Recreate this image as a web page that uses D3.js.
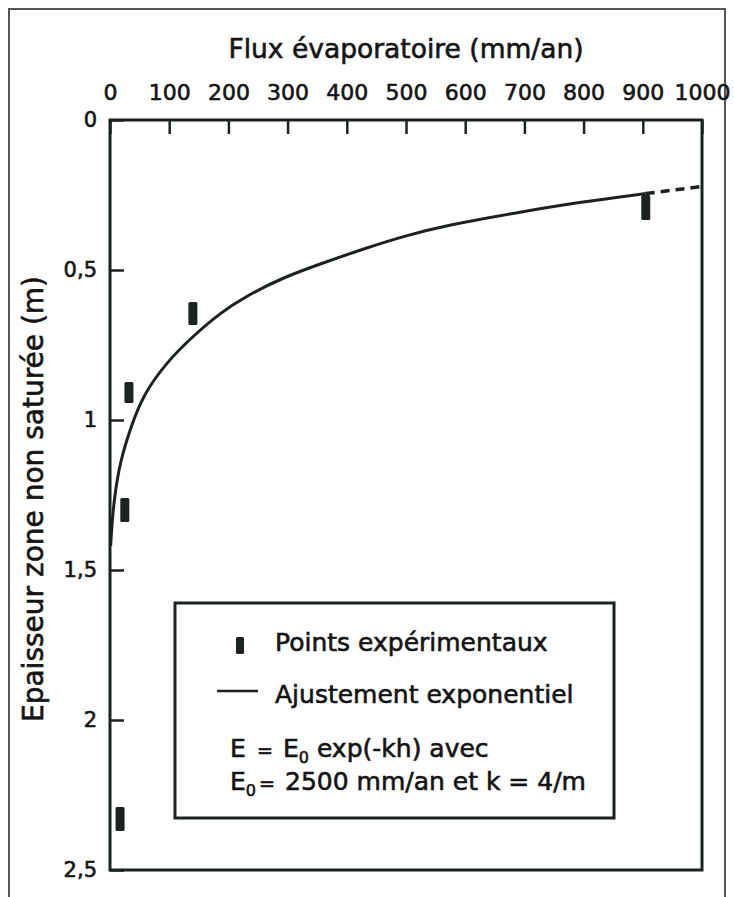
<!DOCTYPE html>
<html>
<head>
<meta charset="utf-8">
<script src="https://cdn.jsdelivr.net/npm/d3@7"></script>
<style>
  body { margin: 0; background: #fff; }
  svg text { font-family: "DejaVu Sans", sans-serif; fill: #141414; stroke: #141414; stroke-width: 0.6px; }
</style>
</head>
<body>
<svg></svg>
<script>
// Points expérimentaux : flux (mm/an) et plage d'épaisseur (m)
const pointFlux = [905, 140, 32, 25, 17];
const pointDepthTop = [0.25, 0.607, 0.873, 1.26, 2.29];
const pointDepthBottom = [0.333, 0.683, 0.943, 1.34, 2.37];

// Ajustement exponentiel
const curveFlux = [905, 797, 683, 571, 500, 432, 359, 292, 229, 186, 136, 97, 56, 34, 17, 8, 4, 1];
const curveDepth = [0.245, 0.273, 0.31, 0.35, 0.385, 0.427, 0.477, 0.525, 0.588, 0.643, 0.728, 0.805, 0.915, 1.03, 1.14, 1.25, 1.33, 1.42];

// prolongement en pointillés
const extFlux = [905, 1003];
const extDepth = [0.245, 0.221];

const xTicks = [0, 100, 200, 300, 400, 500, 600, 700, 800, 900, 1000];
const yTicks = [0, 0.5, 1, 1.5, 2, 2.5];

const width = 734;
const height = 897;
const marginTop = 120;
const marginLeft = 110;
const marginRight = 32;
const marginBottom = 27;
const ink = "#1c2222";

const svg = d3.select("svg")
    .attr("width", width)
    .attr("height", height)
    .attr("viewBox", [0, 0, width, height]);

// cadre extérieur de l'image
svg.append("rect")
    .attr("x", 9).attr("y", 9)
    .attr("width", 716).attr("height", 900)
    .attr("fill", "none")
    .attr("stroke", "#555")
    .attr("stroke-width", 2);

const x = d3.scaleLinear()
    .domain([0, 1000])
    .range([marginLeft, width - marginRight]);

const y = d3.scaleLinear()
    .domain([0, 2.5])
    .range([marginTop, height - marginBottom]);

const fr = d3.formatLocale({decimal: ",", thousands: " ", grouping: [3], currency: ["", " €"]});

// axe du haut
svg.append("g")
    .attr("transform", `translate(0,${marginTop})`)
    .call(d3.axisTop(x).tickValues(xTicks).tickSize(-14).tickSizeOuter(0).tickPadding(20).tickFormat(d3.format("d")))
    .call(g => g.select(".domain").remove())
    .call(g => g.selectAll(".tick line").attr("stroke", ink).attr("stroke-width", 2.5))
    .call(g => g.selectAll(".tick text").attr("font-size", 22).attr("fill", "#141414"));

// axe de gauche
svg.append("g")
    .attr("transform", `translate(${marginLeft},0)`)
    .call(d3.axisLeft(y).tickValues(yTicks).tickSize(-14).tickSizeOuter(0).tickPadding(13).tickFormat(fr.format("~g")))
    .call(g => g.select(".domain").remove())
    .call(g => g.selectAll(".tick line").attr("stroke", ink).attr("stroke-width", 2.5))
    .call(g => g.selectAll(".tick text").attr("font-size", 21).attr("fill", "#141414"));

// boîte du graphique
svg.append("rect")
    .attr("x", x(0)).attr("y", y(0))
    .attr("width", x(1000) - x(0))
    .attr("height", y(2.5) - y(0))
    .attr("fill", "none")
    .attr("stroke", ink)
    .attr("stroke-width", 3);

// titres d'axes
svg.append("text")
    .attr("x", (x(0) + x(1000)) / 2)
    .attr("y", 58)
    .attr("text-anchor", "middle")
    .attr("font-size", 26.5)
    .text("Flux évaporatoire (mm/an)");

svg.append("text")
    .attr("transform", `translate(43,${(y(0) + y(2.5)) / 2 + 4}) rotate(-90)`)
    .attr("text-anchor", "middle")
    .attr("font-size", 28)
    .text("Epaisseur zone non saturée (m)");

// courbe d'ajustement
const line = d3.line()
    .x(d => x(d[0]))
    .y(d => y(d[1]))
    .curve(d3.curveBasis);

svg.append("path")
    .datum(d3.zip(curveFlux, curveDepth))
    .attr("fill", "none")
    .attr("stroke", ink)
    .attr("stroke-width", 3)
    .attr("d", line);

svg.append("path")
    .datum(d3.zip(extFlux, extDepth))
    .attr("fill", "none")
    .attr("stroke", ink)
    .attr("stroke-width", 3.5)
    .attr("stroke-dasharray", "9,6")
    .attr("d", line);

// points expérimentaux
svg.append("g")
  .selectAll()
  .data(d3.range(pointFlux.length))
  .join("rect")
    .attr("x", i => x(pointFlux[i]) - 4.5)
    .attr("y", i => y(pointDepthTop[i]))
    .attr("width", 9)
    .attr("height", i => y(pointDepthBottom[i]) - y(pointDepthTop[i]))
    .attr("rx", 1.5)
    .attr("fill", ink);

// légende
const legend = svg.append("g");

legend.append("rect")
    .attr("x", 175).attr("y", 603)
    .attr("width", 439).attr("height", 215)
    .attr("fill", "#fff")
    .attr("stroke", ink)
    .attr("stroke-width", 3);

legend.append("rect")
    .attr("x", 236).attr("y", 637)
    .attr("width", 8).attr("height", 17)
    .attr("rx", 1.5)
    .attr("fill", ink);

legend.append("text")
    .attr("x", 275).attr("y", 651)
    .attr("font-size", 25)
    .text("Points expérimentaux");

legend.append("line")
    .attr("x1", 217).attr("x2", 258)
    .attr("y1", 691).attr("y2", 691)
    .attr("stroke", ink)
    .attr("stroke-width", 2.5);

legend.append("text")
    .attr("x", 275).attr("y", 703)
    .attr("font-size", 25)
    .text("Ajustement exponentiel");

const eq1 = legend.append("text").attr("y", 757).attr("font-size", 25);
eq1.append("tspan").attr("x", 230).text("E");
eq1.append("tspan").attr("x", 257).attr("font-size", 19).text("=");
eq1.append("tspan").attr("x", 283).text("E");
eq1.append("tspan").attr("dy", 6).attr("font-size", 16).text("0");
eq1.append("tspan").attr("dy", -6).text(" exp(-kh) avec");

const eq2 = legend.append("text").attr("y", 790).attr("font-size", 25);
eq2.append("tspan").attr("x", 230).text("E");
eq2.append("tspan").attr("dy", 6).attr("font-size", 16).text("0");
eq2.append("tspan").attr("x", 259).attr("dy", -6).attr("font-size", 19).text("=");
eq2.append("tspan").attr("x", 285).text("2500 mm/an et k = 4/m");
</script>
</body>
</html>
